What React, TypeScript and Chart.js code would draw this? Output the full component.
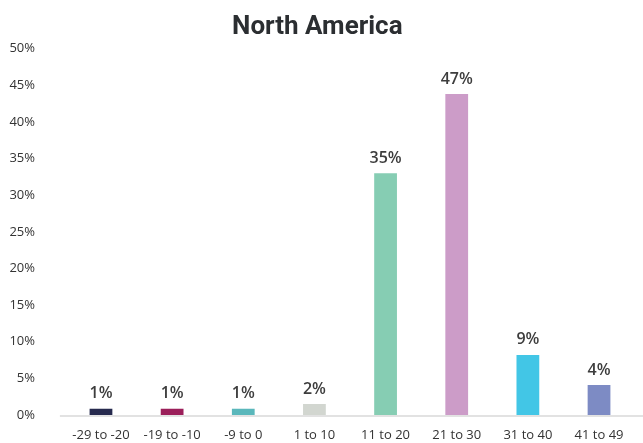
import React, { useEffect, useRef } from "react";
import { Chart, registerables } from "chart.js";

Chart.register(...registerables);

const categories = ["-29 to -20", "-19 to -10", "-9 to 0", "1 to 10", "11 to 20", "21 to 30", "31 to 40", "41 to 49"];
const values = [0.85, 0.85, 0.85, 1.5, 33.0, 43.8, 8.2, 4.1];
const valueLabels = ["1%", "1%", "1%", "2%", "35%", "47%", "9%", "4%"];
const barColors = ["#262a4e", "#9b1f5a", "#5ab7bb", "#d2d6d0", "#86cdb3", "#cc9cc8", "#42c6e6", "#7d8bc4"];
const yTicks = [0, 5, 10, 15, 20, 25, 30, 35, 40, 45, 50];

const baselinePlugin = {
  id: "baseline",
  beforeDatasetsDraw(chart: any) {
    const { ctx, chartArea } = chart;
    ctx.save();
    ctx.strokeStyle = "#e2e2e2";
    ctx.lineWidth = 2;
    ctx.beginPath();
    ctx.moveTo(chartArea.left - 5.5, chartArea.bottom + 1);
    ctx.lineTo(chart.width, chartArea.bottom + 1);
    ctx.stroke();
    ctx.restore();
  },
};

const labelPlugin = {
  id: "valueLabels",
  afterDatasetsDraw(chart: any) {
    const { ctx } = chart;
    const meta = chart.getDatasetMeta(0);
    ctx.save();
    ctx.font = "600 16px 'Open Sans'";
    ctx.fillStyle = "#3d3d3d";
    ctx.textAlign = "center";
    ctx.textBaseline = "middle";
    meta.data.forEach((bar: any, i: number) => {
      ctx.fillText(valueLabels[i], bar.x, bar.y - 15);
    });
    ctx.restore();
  },
};

export default function App() {
  const ref = useRef<HTMLCanvasElement | null>(null);
  useEffect(() => {
    if (!ref.current) return;
    const chart = new Chart(ref.current, {
      type: "bar",
      data: {
        labels: categories,
        datasets: [
          {
            data: values,
            backgroundColor: barColors,
            barPercentage: 0.32,
            categoryPercentage: 1,
          },
        ],
      },
      options: {
        animation: false,
        responsive: true,
        maintainAspectRatio: false,
        layout: { padding: { left: 0, right: 8.4, top: 0, bottom: 0 } },
        plugins: {
          legend: { display: false },
          tooltip: { enabled: false },
          title: {
            display: true,
            text: "North America",
            color: "#2b2e31",
            font: { family: "Roboto", size: 26, weight: "bold", lineHeight: 1.2 },
            padding: { top: 11.5, bottom: 6 },
          },
        },
        scales: {
          x: {
            afterFit(axis: any) {
              axis.height = 28;
              axis.paddingTop = 0;
              axis.paddingBottom = 0;
            },
            grid: { display: false, drawTicks: false },
            border: { display: false },
            ticks: {
              color: "#333333",
              font: { family: "'Open Sans'", size: 13 },
              padding: 12,
              maxRotation: 0,
              autoSkip: false,
            },
          },
          y: {
            min: 0,
            max: 50,
            afterBuildTicks(axis: any) {
              axis.ticks = yTicks.map((v) => ({ value: v }));
            },
            afterFit(axis: any) {
              axis.width = 65.4;
              axis.paddingTop = 0;
              axis.paddingBottom = 0;
            },
            grid: { display: false, drawTicks: false },
            border: { display: false },
            ticks: {
              color: "#333333",
              font: { family: "'Open Sans'", size: 13 },
              padding: 30.4,
              callback: (v: any) => v + "%",
            },
          },
        },
      },
      plugins: [baselinePlugin, labelPlugin],
    });
    return () => chart.destroy();
  }, []);
  return (
    <div style={{ position: "fixed", left: 0, top: 0, width: 643, height: 443, background: "#fff" }}>
      <canvas ref={ref} />
    </div>
  );
}
